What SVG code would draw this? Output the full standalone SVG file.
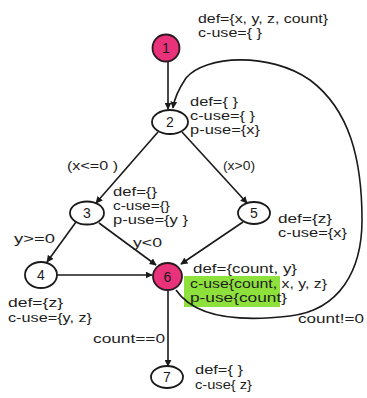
<svg xmlns="http://www.w3.org/2000/svg" width="367" height="398" viewBox="0 0 367 398">
  <style>
    .node { fill: #ffffff; stroke: #1a1a1a; stroke-width: 1.8; }
    .hot { fill: #e8327a; stroke: #2a1a20; stroke-width: 1.8; }
    .num { font-family: "Liberation Sans", Arial, sans-serif; font-size: 14px; fill: #1a1a1a; text-anchor: middle; }
    .lbl { font-family: "Liberation Sans", Arial, sans-serif; font-size: 13px; fill: #1e1e1e; }
    .edge { fill: none; stroke: #1a1a1a; stroke-width: 1.6; marker-end: url(#arrow); }
  </style>
  <defs>
    <marker id="arrow" viewBox="0 0 10 10" refX="9" refY="5" markerWidth="7" markerHeight="7" markerUnits="userSpaceOnUse" orient="auto">
      <path d="M0,0 L10,5 L0,10 z" fill="#1a1a1a"/>
    </marker>
  </defs>
  <rect width="367" height="398" fill="#ffffff"/>

  <!-- highlight behind the uses of node 6 -->
  <rect x="184" y="276" width="96" height="31" fill="#8ee03c"/>

  <g id="connectors">
    <path class="edge" d="M168,62 L168,109"/>
    <path class="edge" d="M158,132 L96,203"/>
    <path class="edge" d="M182,132 L247,203"/>
    <path class="edge" d="M76,222 L47,262"/>
    <path class="edge" d="M99,223 L156,265"/>
    <path class="edge" d="M243,222 L181,264"/>
    <path class="edge" d="M57,275 L152,275"/>
    <path class="edge" d="M168,291 L168,366"/>
    <path class="edge" d="M176,290 C195,318 240,322 290,316 C340,310 362,270 362,220 C362,160 350,110 310,80 C270,52 205,55 186,78 C178,90 174,100 173,108"/>
  </g>

  <g id="n1">
    <ellipse class="hot" cx="166" cy="48" rx="13.5" ry="13.5"/>
    <text class="num" x="166" y="53">1</text>
    <text class="lbl" x="198" y="23" textLength="130" lengthAdjust="spacingAndGlyphs">def={x, y, z, count}</text>
    <text class="lbl" x="198" y="37" textLength="64" lengthAdjust="spacingAndGlyphs">c-use={ }</text>
  </g>

  <g id="n2">
    <ellipse class="node" cx="170" cy="122" rx="18" ry="12"/>
    <text class="num" x="170" y="127">2</text>
    <text class="lbl" x="190" y="106" textLength="48" lengthAdjust="spacingAndGlyphs">def={ }</text>
    <text class="lbl" x="190" y="120" textLength="65" lengthAdjust="spacingAndGlyphs">c-use={ }</text>
    <text class="lbl" x="190" y="134" textLength="70" lengthAdjust="spacingAndGlyphs">p-use={x}</text>
  </g>

  <g id="n3">
    <ellipse class="node" cx="87" cy="213" rx="17" ry="11.5"/>
    <text class="num" x="87" y="218">3</text>
    <text class="lbl" x="113" y="196" textLength="44" lengthAdjust="spacingAndGlyphs">def={}</text>
    <text class="lbl" x="113" y="210" textLength="57" lengthAdjust="spacingAndGlyphs">c-use={}</text>
    <text class="lbl" x="113" y="224" textLength="75" lengthAdjust="spacingAndGlyphs">p-use={y }</text>
  </g>

  <g id="n4">
    <ellipse class="node" cx="41" cy="275" rx="16" ry="13"/>
    <text class="num" x="41" y="280">4</text>
    <text class="lbl" x="8" y="307" textLength="55" lengthAdjust="spacingAndGlyphs">def={z}</text>
    <text class="lbl" x="8" y="322" textLength="84" lengthAdjust="spacingAndGlyphs">c-use={y, z}</text>
  </g>

  <g id="n5">
    <ellipse class="node" cx="254" cy="213" rx="16" ry="11"/>
    <text class="num" x="254" y="218">5</text>
    <text class="lbl" x="278" y="223" textLength="54" lengthAdjust="spacingAndGlyphs">def={z}</text>
    <text class="lbl" x="278" y="237" textLength="69" lengthAdjust="spacingAndGlyphs">c-use={x}</text>
  </g>

  <g id="n6">
    <ellipse class="hot" cx="167.5" cy="276.5" rx="14.5" ry="13.5"/>
    <text class="num" x="167.5" y="281.5">6</text>
    <text class="lbl" x="193" y="273" textLength="104" lengthAdjust="spacingAndGlyphs">def={count, y}</text>
    <text class="lbl" x="190" y="288" textLength="137" lengthAdjust="spacingAndGlyphs">c-use{count, x, y, z}</text>
    <text class="lbl" x="190" y="302" textLength="97" lengthAdjust="spacingAndGlyphs">p-use{count}</text>
  </g>

  <g id="n7">
    <ellipse class="node" cx="167" cy="377" rx="16" ry="11"/>
    <text class="num" x="167" y="382">7</text>
    <text class="lbl" x="195" y="374" textLength="48" lengthAdjust="spacingAndGlyphs">def={ }</text>
    <text class="lbl" x="195" y="389" textLength="57" lengthAdjust="spacingAndGlyphs">c-use{ z}</text>
  </g>

  <g id="edge-labels">
    <text class="lbl" x="67" y="170" textLength="51" lengthAdjust="spacingAndGlyphs">(x&lt;=0 )</text>
    <text class="lbl" x="223" y="170" textLength="32" lengthAdjust="spacingAndGlyphs">(x&gt;0)</text>
    <text class="lbl" x="14" y="243" textLength="41" lengthAdjust="spacingAndGlyphs">y&gt;=0</text>
    <text class="lbl" x="133" y="247" textLength="29" lengthAdjust="spacingAndGlyphs">y&lt;0</text>
    <text class="lbl" x="298" y="323" textLength="66" lengthAdjust="spacingAndGlyphs">count!=0</text>
    <text class="lbl" x="93" y="343" textLength="72" lengthAdjust="spacingAndGlyphs">count==0</text>
  </g>
</svg>
